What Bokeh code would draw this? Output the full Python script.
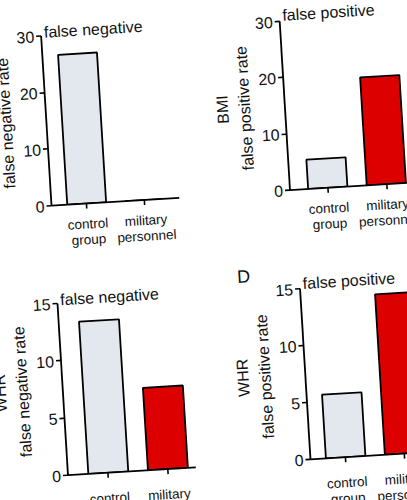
import math

from bokeh.embed import file_html
from bokeh.layouts import column, row
from bokeh.models import FixedTicker, Range1d, Title
from bokeh.plotting import figure
from bokeh.resources import INLINE

# --- data -----------------------------------------------------------------
groups = ["control\ngroup", "military\npersonnel"]
group_pos = [1, 2]

bmi_false_negative = [26.5, 0.0]
bmi_false_positive = [5.2, 19.2]
whr_false_negative = [13.3, 7.2]
whr_false_positive = [5.6, 14.1]

bmi_ticks = [0, 10, 20, 30]
whr_ticks = [0, 5, 10, 15]

bar_colors = ["#e3e8ee", "#dd0000"]

FONT = "Liberation Sans"
INK = "#111111"

# The sheet is turned by TILT degrees. Bokeh sizes each canvas from the turned
# bounding box, which is a little larger than the nominal size, so the right
# and bottom borders get this extra room to keep the frames at their size.
TILT = 3.5


def grow(width, height):
    c, s = math.cos(math.radians(TILT)), math.sin(math.radians(TILT))
    return round(width * c + height * s - width), round(width * s + height * c - height)


def panel(values, ticks, title, ylabel, width, height, borders, x_span,
          title_drop=5, label_gap=8, letter=None):
    left, right, top, bottom = borders
    extra_w, extra_h = grow(width, height)
    ymax = ticks[-1]
    p = figure(
        width=width, height=height,
        x_range=Range1d(*x_span), y_range=Range1d(0, ymax),
        output_backend="svg", toolbar_location=None,
        min_border_left=left, min_border_right=right + extra_w,
        min_border_top=top, min_border_bottom=bottom + extra_h,
    )
    p.outline_line_color = None
    p.background_fill_color = "white"
    p.border_fill_color = None
    p.grid.visible = False

    # panel heading, drawn just over the top of the value axis
    heading = Title(text=title, text_font=FONT, text_font_size="16px",
                    text_font_style="normal", text_color=INK,
                    align="left", offset=3, standoff=-title_drop)
    p.add_layout(heading, "above")
    if letter:
        p.title = Title(text=letter, text_font=FONT, text_font_size="18px",
                        text_font_style="normal", text_color=INK,
                        align="left", offset=-62, standoff=-13)

    p.vbar(x=group_pos, top=values, width=0.67, bottom=0,
           fill_color=bar_colors, line_color="black", line_width=1.8)

    for ax in (p.xaxis[0], p.yaxis[0]):
        ax.axis_line_width = 1.8
        ax.axis_line_color = "black"
        ax.major_tick_line_width = 1.6
        ax.major_tick_line_color = "black"
        ax.major_tick_in = 0
        ax.major_tick_out = 5
        ax.minor_tick_line_color = None
        ax.major_label_text_font = FONT
        ax.major_label_text_color = INK

    p.yaxis.ticker = FixedTicker(ticks=ticks)
    p.yaxis.major_label_text_font_size = "16px"
    p.yaxis.major_label_standoff = 2
    p.yaxis.axis_label = ylabel
    p.yaxis.axis_label_text_font = FONT
    p.yaxis.axis_label_text_font_size = "16px"
    p.yaxis.axis_label_text_font_style = "normal"
    p.yaxis.axis_label_text_color = INK
    p.yaxis.axis_label_text_line_height = 1.3
    p.yaxis.axis_label_standoff = 4

    p.xaxis.ticker = FixedTicker(ticks=group_pos)
    p.xaxis.major_label_overrides = {pos: name for pos, name in zip(group_pos, groups)}
    p.xaxis.major_label_text_font_size = "13.5px"
    p.xaxis.major_label_text_line_height = 1.05
    p.xaxis.major_label_standoff = label_gap
    return p


pa = panel(bmi_false_negative, bmi_ticks, "false negative", "false negative rate",
           227, 250, (76, 22, 25, 54), (0.394, 2.595), title_drop=10, label_gap=8)
pb = panel(bmi_false_positive, bmi_ticks, "false positive", "BMI\nfalse positive rate",
           220, 250, (88, 0, 26, 54), (0.355, 2.588), title_drop=5, label_gap=8)
pc = panel(whr_false_negative, whr_ticks, "false negative", "WHR\nfalse negative rate",
           227, 265, (76, 22, 44, 49), (0.324, 2.467), title_drop=10, label_gap=13)
pd = panel(whr_false_positive, whr_ticks, "false positive", "WHR\nfalse positive rate",
           220, 265, (92, 0, 44, 49), (0.403, 2.554), title_drop=7, label_gap=13,
           letter="D")

# the printed sheet sits slightly turned on the page
sheet = column(row(pa, pb), row(pc, pd),
               styles={"transform": f"translate(-22px, 0px) rotate(-{TILT}deg)",
                       "transform-origin": "225.5px 250px"})

open("out.html", "w").write(file_html(sheet, INLINE))
